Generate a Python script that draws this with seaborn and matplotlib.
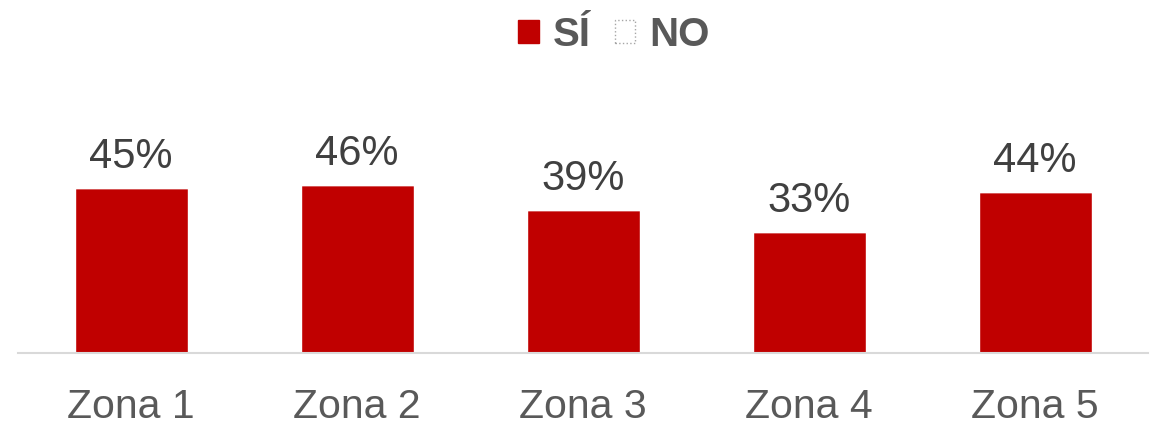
import matplotlib
matplotlib.use("Agg")
import matplotlib.pyplot as plt
from matplotlib.patches import Patch
import pandas as pd
import seaborn as sns

zonas = ["Zona 1", "Zona 2", "Zona 3", "Zona 4", "Zona 5"]
si = [0.45, 0.46, 0.39, 0.33, 0.44]
no = [0.55, 0.54, 0.61, 0.67, 0.56]

df = pd.DataFrame({"Zona": zonas, "SI": si, "NO": no})

sns.set_style("white")
plt.rcParams["font.family"] = ["Liberation Sans", "DejaVu Sans"]

fig = plt.figure(figsize=(11.6, 4.26), dpi=100)
ax = fig.add_axes([18 / 1160, 1 - 353 / 426, 1130 / 1160, 273 / 426])

sns.barplot(data=df, x="Zona", y="SI", color="#c00000", width=0.5,
            saturation=1, ax=ax)
sns.barplot(data=df, x="Zona", y="NO", color="white", width=0.5,
            saturation=1, bottom=df["SI"], ax=ax)

ax.set_ylim(0, 0.746)
ax.set_xlim(-0.5, 4.5)
ax.set_xlabel("")
ax.set_ylabel("")
ax.set_yticks([])
ax.tick_params(axis="x", length=0, labelsize=29.5, labelcolor="#595959", pad=25)
for side in ["top", "left", "right"]:
    ax.spines[side].set_visible(False)
ax.spines["bottom"].set_color("#d9d9d9")
ax.spines["bottom"].set_linewidth(1.5)

for i, v in enumerate(si):
    ax.annotate(f"{v:.0%}", (i, v), xytext=(0, 8), textcoords="offset points",
                ha="center", va="bottom", fontsize=30, color="#404040")

handles = [Patch(facecolor="#c00000", edgecolor="#c00000"),
           Patch(facecolor="white", edgecolor="#a6a6a6", linestyle=":")]
fig.legend(handles, ["SÍ", "NO"], loc="center", bbox_to_anchor=(614 / 1160, 1 - 35 / 426),
           ncol=2, frameon=False, handlelength=0.5, handleheight=0.5,
           handletextpad=0.35, columnspacing=0.6,
           prop={"size": 29, "weight": "bold"}, labelcolor="#595959")

fig.savefig("out.png", dpi=100)
